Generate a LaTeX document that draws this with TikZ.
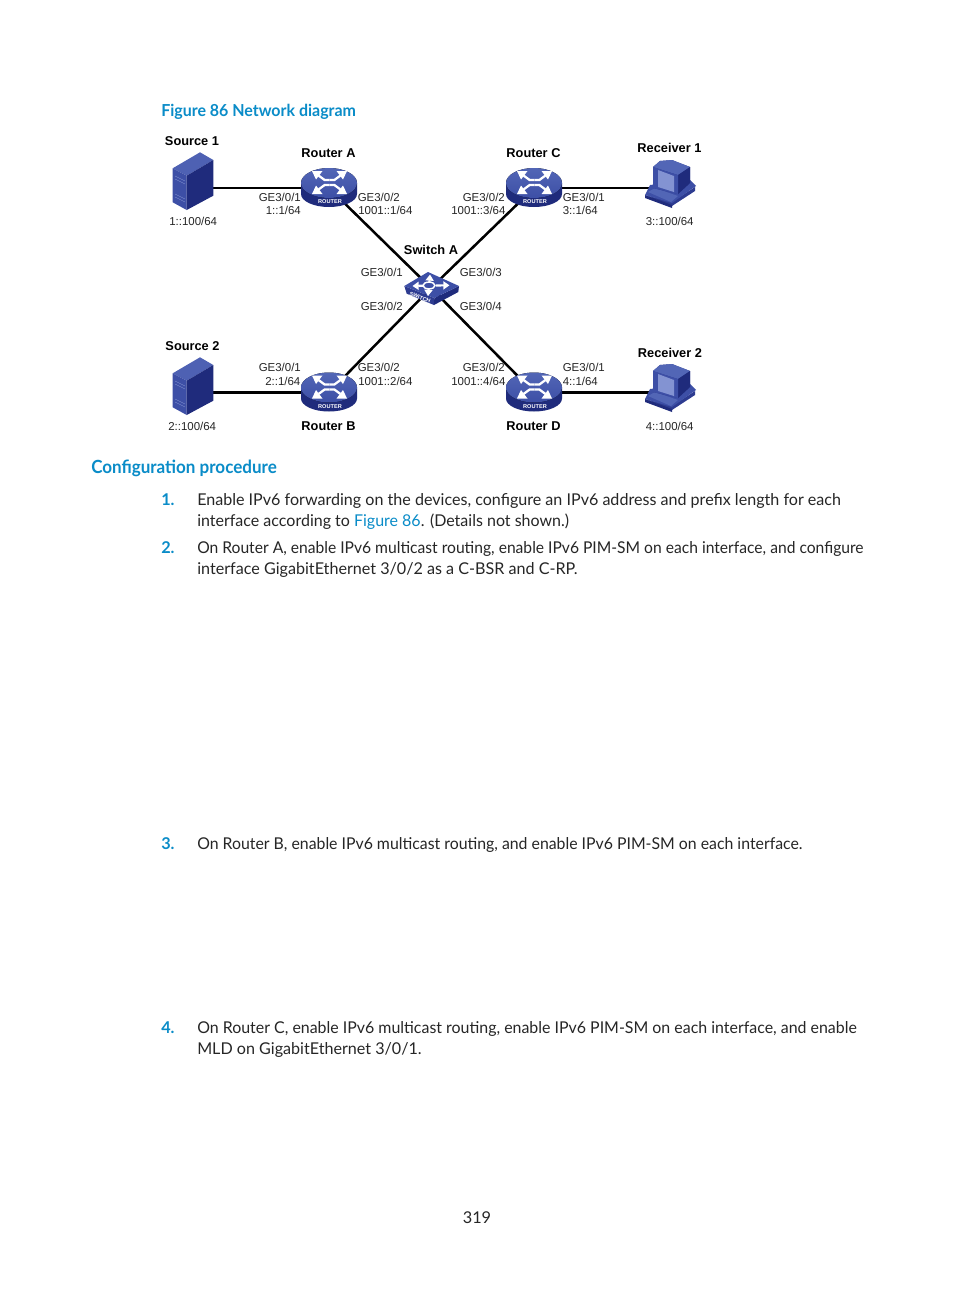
\documentclass[tikz,border=0pt]{standalone}
\usepackage{fontspec}
\usepackage{graphicx}
\setmainfont{Liberation Sans}
\newfontfamily\bodyfont{Lato}
\usetikzlibrary{arrows.meta}
\definecolor{hpblue}{HTML}{0A8CC8}
\definecolor{devA}{HTML}{3D4FA6}
\definecolor{devB}{HTML}{2D3B90}
\definecolor{devC}{HTML}{1F2B7C}
\definecolor{devD}{HTML}{5266B6}
\definecolor{devE}{HTML}{8393D2}
\newcommand{\hs}[2]{\scalebox{#1}[1]{#2}}
\tikzset{
 x=0.75pt,y=-0.75pt,
 linka/.style={line width=1.9pt,black},
 linkb/.style={line width=1.6pt,black},
 devnode/.style={inner sep=0pt,minimum size=10pt},
 labtxt/.style={anchor=base west,inner sep=0pt,font=\fontsize{8.6}{10}\selectfont,text=black!85},
 nametxt/.style={anchor=base,inner sep=0pt,font=\fontsize{9.6}{11}\bfseries\selectfont},
 bodytxt/.style={anchor=base west,inner sep=0pt,font=\bodyfont\fontsize{12.2}{14}\selectfont,text=black!85},
 numtxt/.style={anchor=base west,inner sep=0pt,font=\bodyfont\fontsize{12.2}{14}\bfseries\selectfont,text=hpblue},
 headtxt/.style={anchor=base west,inner sep=0pt,text=hpblue},
 swarrow/.style={white,line width=1.6pt,-{Triangle[length=4.6pt,width=6pt]}},
 routericon/.pic={
  \fill[devC] (-28,-5) -- (-28,6) arc[start angle=180,end angle=0,x radius=28,y radius=13] -- (28,-5) -- cycle;
  \fill[top color=devD,bottom color=devA] (0,-5) ellipse[x radius=28,y radius=15];
  \foreach \sx in {-1,1}\foreach \sy in {-1,1}{
   \begin{scope}[shift={(0.5,-5.5)},xscale=\sx,yscale=\sy]
    \draw[white,line width=1.7pt] (0,-2.6) -- (-5,-2.6) -- (-11,-7);
    \fill[white] (-17.5,-11.5) -- (-7,-11.5) -- (-13.5,-3) -- cycle;
   \end{scope}}
  \node[inner sep=0pt,text=white,font=\fontsize{4.2}{4.5}\bfseries\selectfont] at (1,14) {ROUTER};
 },
 servericon/.pic={
  \fill[devD!80!devA] (-20.3,-16.7) -- (7,-32.7) -- (20.3,-25) -- (-6.3,-9.3) -- cycle;
  \fill[devA] (-20.3,-16.7) -- (-6.3,-9.3) -- (-6.3,25) -- (-20.3,17.3) -- cycle;
  \fill[devC] (-6.3,-9.3) -- (20.3,-25) -- (20.3,10.7) -- (-6.3,25) -- cycle;
  \draw[devE,line width=0.3pt] (-18,-9) -- (-8,-4) (-18,-6) -- (-8,-1) (-18,9) -- (-8,14) (-18,12) -- (-8,17);
 },
 pcicon/.pic={
  \fill[devB] (-25,7) -- (2,18) -- (25,3) -- (25,-1) -- (2,14) -- cycle;
  \fill[devC] (-25,7) -- (2,17) -- (2,20) -- (-25,10) -- cycle;
  \fill[devA] (-20,-3) -- (20,-8) -- (26,-2) -- (2,15) -- (-25,7) -- cycle;
  \fill[devD] (-22,4) -- (-15,0) -- (8,8) -- (1,14) -- cycle;
  \fill[devB] (-17,-21) -- (-10,-27) -- (2,-28) -- (20,-21) -- (20,-5) -- (8,6) -- (-17,0) -- cycle;
  \fill[devD] (-17,-21) -- (-10,-27) -- (2,-28) -- (20,-21) -- (8,-13) -- cycle;
  \fill[devC] (8,-13) -- (20,-21) -- (20,-5) -- (8,6) -- cycle;
  \fill[devA] (-17,-21) -- (8,-13) -- (8,6) -- (-17,0) -- cycle;
  \fill[devE] (-12,-18) -- (4,-12) -- (4,4) -- (-12,-1) -- cycle;
 },
 switchicon/.pic={
  \fill[devB] (-26.7,-2) -- (3.3,10) -- (3,17) -- (-24.3,5.7) -- cycle;
  \fill[devC] (3.3,10) -- (28,-2) -- (27.3,4) -- (3,17) -- cycle;
  \fill[devA] (-26.7,-2) -- (-3,-16) -- (28,-2) -- (3.3,10) -- cycle;
  \draw[swarrow] (-8,-2.3) -- (-18.5,-2);
  \draw[swarrow] (5,-2.5) -- (18.5,-2.7);
  \draw[swarrow] (-1.5,-6) -- (-1,-13.5);
  \draw[swarrow] (-2.5,1) -- (-3,8);
  \draw[white,line width=1.1pt] (-2,-2.5) ellipse[x radius=6,y radius=3.4];
  \node[inner sep=0pt,text=white,rotate=-22,font=\fontsize{4.2}{4.5}\bfseries\selectfont] at (-11,9.5) {SWITCH};
 },
}
\begin{document}
\begin{tikzpicture}
\useasboundingbox[fill=white] (0,0) rectangle (954,1296);
% devices
\node[devnode] (src1) at (193,185) {};
\node[devnode] (src2) at (193,390) {};
\node[devnode] (ra) at (329,188) {};
\node[devnode] (rb) at (329,392.5) {};
\node[devnode] (rc) at (534,188) {};
\node[devnode] (rd) at (534,392.5) {};
\node[devnode] (rc1) at (670,188) {};
\node[devnode] (rc2) at (670,392) {};
\node[devnode] (sw) at (431,288) {};
\coordinate (s1e) at (src1 |- ra);
\coordinate (s2e) at (src2 |- rb);
\coordinate (r1e) at (rc1 |- rc);
\coordinate (r2e) at (rc2 |- rd);
\draw[linka] (s1e) -- (ra.center);
\draw[linka] (s2e) -- (rb.center);
\draw[linkb] (rc.center) -- (r1e);
\draw[linka] (rd.center) -- (r2e);
\draw[linka] (ra.center) -- (sw.center);
\draw[linka] (rb.center) -- (sw.center);
\draw[linka] (rc.center) -- (sw.center);
\draw[linka] (rd.center) -- (sw.center);
\pic at (src1) {servericon};
\pic at (src2) {servericon};
\pic at (ra) {routericon};
\pic at (rb) {routericon};
\pic at (rc) {routericon};
\pic at (rd) {routericon};
\pic at (rc1) {pcicon};
\pic at (rc2) {pcicon};
\pic at (sw) {switchicon};
% names
\node[nametxt] (t1) at (192,145.5) {Source 1};
\node[nametxt] (t2) at (192.5,350.5) {Source 2};
\node[nametxt] (t3) at (328.5,157.5) {Router A};
\node[nametxt] (t4) at (328.5,430.5) {Router B};
\node[nametxt] (t5) at (533.5,157.5) {Router C};
\node[nametxt] (t6) at (533.5,430.5) {Router D};
\node[nametxt] (t7) at (669.5,152.5) {Receiver 1};
\node[nametxt] (t8) at (670,357.5) {Receiver 2};
\node[nametxt] (t9) at (431,254.5) {Switch A};
% labels
\node[labtxt] (l1) at (169,225) {1::100/64};
\node[labtxt] (l2) at (168,430) {2::100/64};
\node[labtxt] (l3) at (645.5,225) {3::100/64};
\node[labtxt] (l4) at (645.5,430) {4::100/64};
\node[labtxt] (l5) at (258.5,201) {GE3/0/1};
\node[labtxt] (l6) at (265.5,214.5) {1::1/64};
\node[labtxt] (l7) at (357.5,201) {GE3/0/2};
\node[labtxt] (l8) at (358,214.5) {1001::1/64};
\node[labtxt] (l9) at (462.5,201) {GE3/0/2};
\node[labtxt] (l10) at (451,214.5) {1001::3/64};
\node[labtxt] (l11) at (562.5,201) {GE3/0/1};
\node[labtxt] (l12) at (562.5,214.5) {3::1/64};
\node[labtxt] (l13) at (360.5,276) {GE3/0/1};
\node[labtxt] (l14) at (459.5,276) {GE3/0/3};
\node[labtxt] (l15) at (360.5,310) {GE3/0/2};
\node[labtxt] (l16) at (459.5,310) {GE3/0/4};
\node[labtxt] (l17) at (258.5,371.5) {GE3/0/1};
\node[labtxt] (l18) at (265,385) {2::1/64};
\node[labtxt] (l19) at (357.5,371.5) {GE3/0/2};
\node[labtxt] (l20) at (358,385) {1001::2/64};
\node[labtxt] (l21) at (462.5,371.5) {GE3/0/2};
\node[labtxt] (l22) at (451,385) {1001::4/64};
\node[labtxt] (l23) at (562.5,371.5) {GE3/0/1};
\node[labtxt] (l24) at (562.5,385) {4::1/64};
% text
\node[headtxt,font=\bodyfont\fontsize{12.4}{15}\bfseries\selectfont] (cap) at (161,116) {\hs{0.966}{Figure 86 Network diagram}};
\node[headtxt,font=\bodyfont\fontsize{13.6}{17}\bfseries\selectfont] (sec) at (91,473) {\hs{0.939}{Configuration procedure}};
\node[numtxt] (n1) at (161,505) {1.};
\node[numtxt] (n2) at (161,553) {2.};
\node[numtxt] (n3) at (161,849) {3.};
\node[numtxt] (n4) at (161,1033) {4.};
\node[bodytxt] (b1) at (197,505) {\hs{0.989}{Enable IPv6 forwarding on the devices, configure an IPv6 address and prefix length for each}};
\node[bodytxt] (b2) at (197,526) {\hs{0.984}{interface according to \textcolor{hpblue}{Figure 86}. (Details not shown.)}};
\node[bodytxt] (b3) at (197,553) {\hs{0.961}{On Router A, enable IPv6 multicast routing, enable IPv6 PIM-SM on each interface, and configure}};
\node[bodytxt] (b4) at (197,574) {\hs{0.992}{interface GigabitEthernet 3/0/2 as a C-BSR and C-RP.}};
\node[bodytxt] (b5) at (197,849) {\hs{0.973}{On Router B, enable IPv6 multicast routing, and enable IPv6 PIM-SM on each interface.}};
\node[bodytxt] (b6) at (197,1033) {\hs{0.979}{On Router C, enable IPv6 multicast routing, enable IPv6 PIM-SM on each interface, and enable}};
\node[bodytxt] (b7) at (197,1054) {\hs{0.991}{MLD on GigabitEthernet 3/0/1.}};
\node[bodytxt,anchor=base] (pg) at (477,1223) {319};
\end{tikzpicture}
\end{document}
